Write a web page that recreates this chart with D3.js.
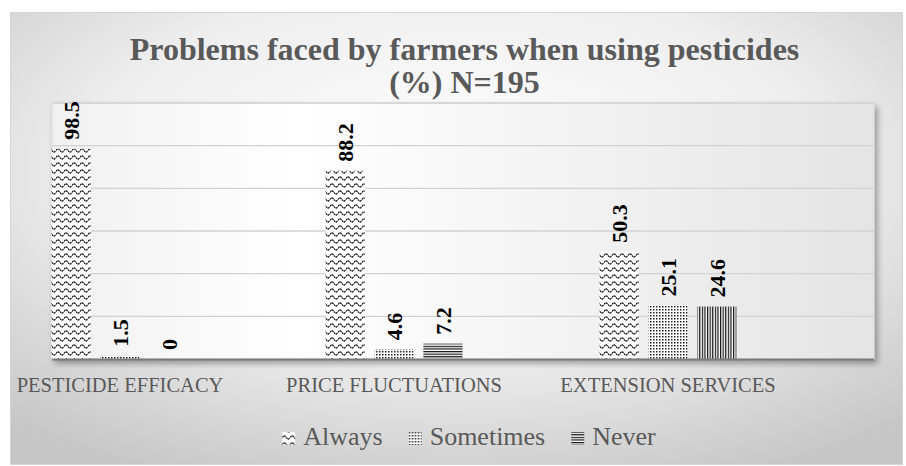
<!DOCTYPE html>
<html lang="en">
<head>
    <meta charset="utf-8">
    <title>Problems faced by farmers when using pesticides</title>
    <script src="https://d3js.org/d3.v7.min.js"></script>
    <style>
        body { margin: 0; background: #fff; }
        svg { display: block; }
    </style>
</head>
<body>
    <svg width="906" height="466"></svg>

    <script>
        // Data
        var categories = ["PESTICIDE EFFICACY", "PRICE FLUCTUATIONS", "EXTENSION SERVICES"];
        var series = ["Always", "Sometimes", "Never"];
        var always = [98.5, 88.2, 50.3];
        var sometimes = [1.5, 4.6, 25.1];
        var never = [0, 7.2, 24.6];
        var yTicks = [20, 40, 60, 80, 100, 120];
        var titleLines = ["Problems faced by farmers when using pesticides", "(%) N=195"];

        var values = { "Always": always, "Sometimes": sometimes, "Never": never };

        var svg = d3.select("svg"),
            width = +svg.attr("width"),
            height = +svg.attr("height");

        var serif = "'Liberation Serif', 'Times New Roman', serif";
        var defs = svg.append("defs");

        // background gradients
        var bg = defs.append("radialGradient").attr("id", "bg")
            .attr("cx", "50%").attr("cy", "35%").attr("r", "75%");
        bg.append("stop").attr("offset", "0%").attr("stop-color", "#ffffff");
        bg.append("stop").attr("offset", "55%").attr("stop-color", "#eeeeee");
        bg.append("stop").attr("offset", "100%").attr("stop-color", "#c6c6c6");

        var pg = defs.append("linearGradient").attr("id", "plotbg")
            .attr("x1", "0%").attr("y1", "0%").attr("x2", "100%").attr("y2", "0%");
        pg.append("stop").attr("offset", "0%").attr("stop-color", "#f0f0f0");
        pg.append("stop").attr("offset", "30%").attr("stop-color", "#ffffff");
        pg.append("stop").attr("offset", "100%").attr("stop-color", "#e4e4e4");

        var shadow = defs.append("filter").attr("id", "shadow")
            .attr("x", "-5%").attr("y", "-5%").attr("width", "115%").attr("height", "120%");
        shadow.append("feDropShadow").attr("dx", 3).attr("dy", 4)
            .attr("stdDeviation", 3).attr("flood-color", "#000").attr("flood-opacity", 0.35);

        // bar patterns
        var pWave = defs.append("pattern").attr("id", "pat-Always")
            .attr("patternUnits", "userSpaceOnUse").attr("width", 8).attr("height", 7);
        pWave.append("rect").attr("width", 8).attr("height", 7).attr("fill", "#fff");
        pWave.append("path").attr("d", "M0,3.5 Q2,0.3 4,3.5 T8,3.5")
            .attr("fill", "none").attr("stroke", "#111").attr("stroke-width", 1.3)
            .attr("stroke-dasharray", "2,0.5");

        var pDots = defs.append("pattern").attr("id", "pat-Sometimes")
            .attr("patternUnits", "userSpaceOnUse").attr("width", 3).attr("height", 3);
        pDots.append("rect").attr("width", 3).attr("height", 3).attr("fill", "#fff");
        pDots.append("rect").attr("width", 1.5).attr("height", 1.5).attr("fill", "#222");

        var pLines = defs.append("pattern").attr("id", "pat-Never")
            .attr("patternUnits", "userSpaceOnUse").attr("width", 4).attr("height", 2.6);
        pLines.append("rect").attr("width", 4).attr("height", 2.6).attr("fill", "#fff");
        pLines.append("rect").attr("width", 4).attr("height", 1.2).attr("fill", "#111");

        var pVLines = defs.append("pattern").attr("id", "pat-Never-v")
            .attr("patternUnits", "userSpaceOnUse").attr("width", 2.6).attr("height", 4);
        pVLines.append("rect").attr("width", 2.6).attr("height", 4).attr("fill", "#fff");
        pVLines.append("rect").attr("width", 1.2).attr("height", 4).attr("fill", "#111");

        // outer frame
        svg.append("rect")
            .attr("x", 10.5).attr("y", 12.5)
            .attr("width", width - 14).attr("height", height - 14)
            .attr("fill", "url(#bg)")
            .attr("stroke", "#d4d4d4");

        // scales
        var plotLeft = 52, plotRight = 874, plotTop = 103, plotBottom = 359;
        var y = d3.scaleLinear().domain([0, 120]).range([plotBottom, plotTop]);
        var x = d3.scalePoint().domain(categories).range([120, 668]);
        var xSub = d3.scaleBand().domain(series).range([-68.5, 68.5]).paddingInner(0.2);

        // plot area
        svg.append("rect")
            .attr("x", plotLeft).attr("y", plotTop)
            .attr("width", plotRight - plotLeft).attr("height", plotBottom - plotTop)
            .attr("fill", "url(#plotbg)")
            .attr("stroke", "#dcdcdc")
            .attr("filter", "url(#shadow)");

        // gridlines
        svg.append("g")
            .selectAll("line")
            .data(yTicks)
            .enter()
            .append("line")
            .attr("x1", plotLeft).attr("x2", plotRight)
            .attr("y1", function(d){ return y(d); })
            .attr("y2", function(d){ return y(d); })
            .attr("stroke", "#d2d2d2")
            .attr("stroke-width", 1.4);

        // bars
        var groups = svg.append("g")
            .selectAll("g")
            .data(categories)
            .enter()
            .append("g")
            .attr("transform", function(d){ return "translate(" + x(d) + ",0)"; });

        var cells = groups.selectAll("g")
            .data(function(c, i){
                return series.map(function(s){ return { cat: c, key: s, value: values[s][i] }; });
            })
            .enter()
            .append("g");

        cells.append("rect")
            .attr("x", function(d){ return xSub(d.key); })
            .attr("y", function(d){ return y(d.value); })
            .attr("width", xSub.bandwidth())
            .attr("height", function(d){ return y(0) - y(d.value); })
            .attr("fill", function(d){
                // the last "Never" bar shows its stripes turned upright in the source
                if (d.key === "Never" && d.cat === "EXTENSION SERVICES") return "url(#pat-Never-v)";
                return "url(#pat-" + d.key + ")";
            });

        // data labels, rotated
        cells.append("text")
            .attr("transform", function(d){
                var cx = xSub(d.key) + xSub.bandwidth() / 2;
                return "translate(" + (cx + 8) + "," + (y(d.value) - 9) + ") rotate(-90)";
            })
            .attr("text-anchor", "start")
            .style("font-family", serif)
            .style("font-weight", "bold")
            .style("font-size", "22px")
            .attr("fill", "#000")
            .text(function(d){ return d.value; });

        // baseline
        svg.append("line")
            .attr("x1", plotLeft).attr("x2", plotRight)
            .attr("y1", y(0) + 0.5).attr("y2", y(0) + 0.5)
            .attr("stroke", "#7a7a7a")
            .attr("stroke-width", 2);

        // category labels
        svg.append("g")
            .selectAll("text")
            .data(categories)
            .enter()
            .append("text")
            .attr("x", function(d){ return x(d); })
            .attr("y", 392)
            .attr("text-anchor", "middle")
            .style("font-family", serif)
            .style("font-size", "20.5px")
            .attr("fill", "#595959")
            .text(function(d){ return d; });

        // title
        svg.append("text")
            .attr("x", 464.5)
            .attr("y", 60)
            .attr("text-anchor", "middle")
            .style("font-family", serif)
            .style("font-weight", "bold")
            .style("font-size", "32px")
            .attr("fill", "#595959")
            .selectAll("tspan")
            .data(titleLines)
            .enter()
            .append("tspan")
            .attr("x", 464.5)
            .attr("dy", function(d, i){ return i === 0 ? 0 : 33; })
            .text(function(d){ return d; });

        // legend
        var legend = svg.append("g");
        var lx = 0;
        series.forEach(function(s){
            var item = legend.append("g").attr("transform", "translate(" + lx + ",0)");
            item.append("rect")
                .attr("x", 0).attr("y", 432)
                .attr("width", 13).attr("height", 13)
                .attr("fill", "url(#pat-" + s + ")");
            var t = item.append("text")
                .attr("x", 21).attr("y", 445)
                .style("font-family", serif)
                .style("font-size", "26px")
                .attr("fill", "#595959")
                .text(s);
            lx += 21 + t.node().getComputedTextLength() + 26;
        });
        var legendWidth = lx - 26;
        legend.attr("transform", "translate(" + (469 - legendWidth / 2) + ",0)");
    </script>
</body>
</html>
